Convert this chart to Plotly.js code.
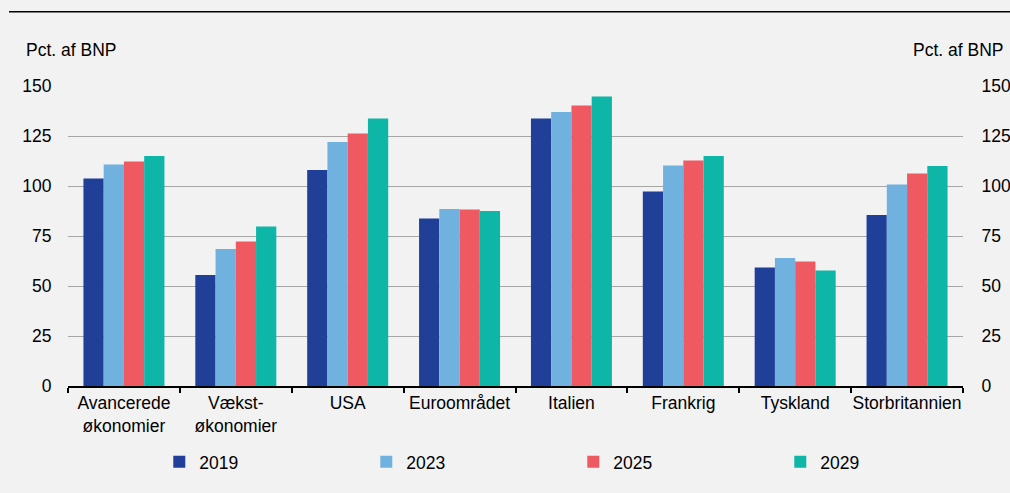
<!DOCTYPE html>
<html>
<head>
<meta charset="utf-8">
<script src="https://cdn.plot.ly/plotly-3.0.1.min.js"></script>
<style>html,body{margin:0;padding:0;background:#f2f2f2;}#chart{width:1010px;height:493px;}</style>
</head>
<body>
<div id="chart"></div>
<script>
const categories = ["Avancerede<br>økonomier", "Vækst-<br>økonomier", "USA", "Euroområdet", "Italien", "Frankrig", "Tyskland", "Storbritannien"];
const seriesNames = ["2019", "2023", "2025", "2029"];
const v2019 = [103.7, 55.5, 108.0, 83.8, 133.8, 97.2, 59.3, 85.5];
const v2023 = [110.7, 68.5, 122.0, 88.5, 137.0, 110.3, 64.0, 100.8];
const v2025 = [112.3, 72.2, 126.3, 88.2, 140.3, 112.8, 62.2, 106.2];
const v2029 = [115.0, 79.8, 133.7, 87.5, 144.8, 115.0, 57.7, 110.0];
const yTicks = [0, 25, 50, 75, 100, 125, 150];
const axisTitle = "Pct. af BNP";
const colors = ["#1f3f98", "#70b1df", "#ef5a62", "#0db6a7"];

const values = [v2019, v2023, v2025, v2029];
const font = {family: "Liberation Sans, Arial, sans-serif", size: 17.5, color: "#000"};

const traces = values.map((v, i) => ({
  type: "bar", name: seriesNames[i], x: categories, y: v,
  marker: {color: colors[i], line: {width: 0}}, hoverinfo: "x+y+name"
}));
traces.push({type: "scatter", mode: "markers", x: [categories[0]], y: [null], yaxis: "y2", showlegend: false, hoverinfo: "skip"});

const layout = {
  width: 1010, height: 493,
  paper_bgcolor: "#f2f2f2", plot_bgcolor: "#f2f2f2",
  margin: {l: 68, r: 47, t: 86, b: 107},
  font: font,
  barmode: "group", bargap: 0.276, bargroupgap: 0,
  showlegend: true,
  legend: {orientation: "h", x: 0.102, xanchor: "left", y: -0.253, yanchor: "middle",
           entrywidth: 162, entrywidthmode: "pixels", itemwidth: 30, font: font, bgcolor: "rgba(0,0,0,0)"},
  xaxis: {type: "category", showline: true, linecolor: "#000", linewidth: 1.5, tickangle: 0,
          ticks: "outside", tickson: "boundaries", ticklen: 5, tickcolor: "#000", tickwidth: 1.5,
          showgrid: false, tickfont: font, fixedrange: true, automargin: false},
  yaxis: {range: [0, 150], tickvals: yTicks, showgrid: true, gridcolor: "#a6a6a6", gridwidth: 1,
          zeroline: false, showline: false, ticks: "outside", ticklen: 12, tickcolor: "rgba(0,0,0,0)",
          tickfont: font, fixedrange: true, automargin: false},
  yaxis2: {range: [0, 150], tickvals: yTicks, overlaying: "y", side: "right", showgrid: false,
           zeroline: false, showline: false, ticks: "outside", ticklen: 14, tickcolor: "rgba(0,0,0,0)",
           tickfont: font, fixedrange: true, automargin: false},
  annotations: [
    {text: axisTitle, xref: "paper", yref: "paper", x: -0.0492, y: 1.12, xanchor: "left", yanchor: "middle", showarrow: false, font: font},
    {text: axisTitle, xref: "paper", yref: "paper", x: 1.0469, y: 1.12, xanchor: "right", yanchor: "middle", showarrow: false, font: font}
  ],
  shapes: [
    {type: "line", xref: "paper", yref: "paper", x0: -0.0659, x1: 1.06, y0: 1.2477, y1: 1.2477, line: {color: "#000", width: 1.5}}
  ]
};
Plotly.newPlot("chart", traces, layout, {displayModeBar: false, staticPlot: false});
</script>
</body>
</html>
